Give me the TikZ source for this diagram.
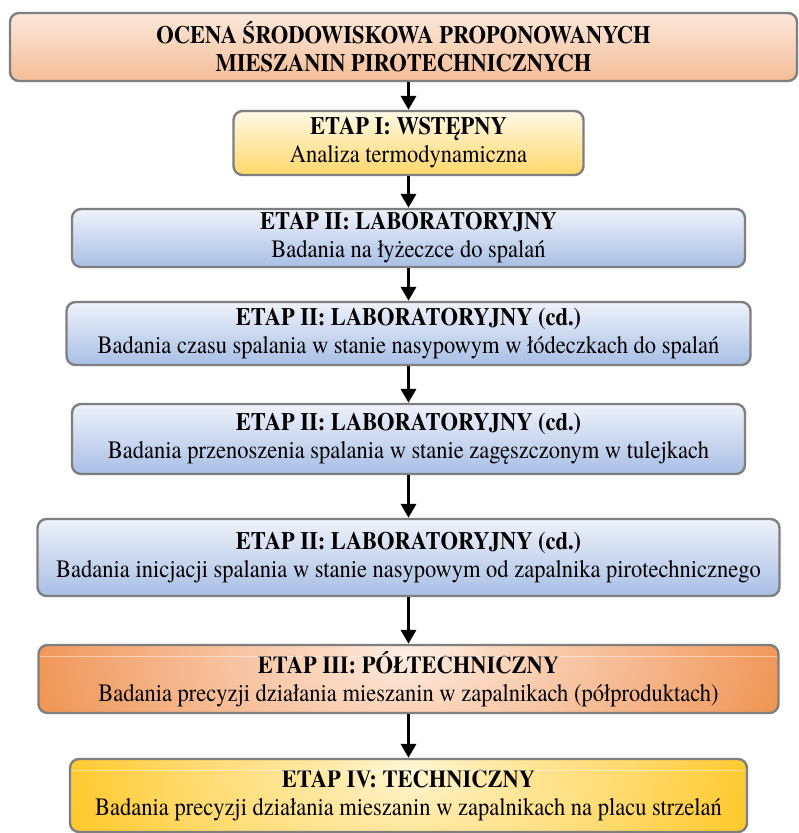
\documentclass[tikz,border=0pt]{standalone}
\usepackage{fontspec}
\setmainfont{texgyretermes}[Extension=.otf,UprightFont=*-regular,BoldFont=*-bold,ItalicFont=*-italic,BoldItalicFont=*-bolditalic,FakeStretch=0.9]
\usetikzlibrary{arrows.meta}
\definecolor{bord}{HTML}{7F7F7F}
\definecolor{pT}{HTML}{FCE8DB}
\definecolor{pB}{HTML}{F4BD97}
\definecolor{yT}{HTML}{FFF9E6}
\definecolor{yB}{HTML}{FFD86A}
\definecolor{bT}{HTML}{EEF2FA}
\definecolor{bB}{HTML}{A9BFE5}
\definecolor{oA}{HTML}{FDEEE4}
\definecolor{oB}{HTML}{FAD6BE}
\definecolor{oM}{HTML}{F5B68C}
\definecolor{oN}{HTML}{F0985A}
\definecolor{oC}{HTML}{ED7D31}
\definecolor{gA}{HTML}{FFF6D5}
\definecolor{gB}{HTML}{FFE9A6}
\definecolor{gM}{HTML}{FFDA6E}
\definecolor{gN}{HTML}{FFCA30}
\definecolor{gC}{HTML}{FFC000}
\pgfdeclareradialshading{glowO}{\pgfpoint{0bp}{0bp}}{color(0bp)=(oA); color(6bp)=(oB); color(16bp)=(oM); color(25bp)=(oN); color(34bp)=(oC); color(150bp)=(oC)}
\pgfdeclareradialshading{glowY}{\pgfpoint{0bp}{0bp}}{color(0bp)=(gA); color(6bp)=(gB); color(16bp)=(gM); color(25bp)=(gN); color(34bp)=(gC); color(150bp)=(gC)}
\begin{document}
\begin{tikzpicture}[x=1pt,y=-1pt,
  box/.style={draw=bord, line width=2.4pt, rounded corners=9pt, inner sep=0pt,
    align=center, font=\fontsize{25}{28}\selectfont},
  peach/.style={box, top color=pT, bottom color=pB},
  ylw/.style={box, top color=yT, bottom color=yB},
  blu/.style={box, top color=bT, bottom color=bB},
  org/.style={box, fill=oC, path picture={\shade[shading=glowO]
      ([yshift=190pt]path picture bounding box.north west) rectangle
      ([yshift=-138pt]path picture bounding box.south east);}},
  gld/.style={box, fill=gC, path picture={\shade[shading=glowY]
      ([yshift=190pt]path picture bounding box.north west) rectangle
      ([yshift=-138pt]path picture bounding box.south east);}},
  hl/.style={draw=white, opacity=0.45, line width=1pt},
  arr/.style={line width=3.5pt, -{Triangle[length=14pt,width=15pt]}}]
\useasboundingbox (0,0) rectangle (799,833);
\fill[white] (0,0) rectangle (799,833);

\node[peach, minimum width=787pt, minimum height=68pt] (b1) at (403.5,47)
  {\textbf{OCENA ŚRODOWISKOWA PROPONOWANYCH}\\\textbf{MIESZANIN PIROTECHNICZNYCH}};
\node[ylw, minimum width=350pt, minimum height=64pt] (b2) at (408.5,143)
  {\textbf{ETAP I: WSTĘPNY}\\Analiza termodynamiczna};
\node[blu, minimum width=673pt, minimum height=58pt] (b3) at (408.5,238)
  {\textbf{ETAP II: LABORATORYJNY}\\Badania na łyżeczce do spalań};
\node[blu, minimum width=684pt, minimum height=63pt] (b4) at (408.5,333.5)
  {\textbf{ETAP II: LABORATORYJNY (cd.)}\\Badania czasu spalania w stanie nasypowym w łódeczkach do spalań};
\node[blu, minimum width=673pt, minimum height=70pt] (b5) at (408.5,439)
  {\textbf{ETAP II: LABORATORYJNY (cd.)}\\Badania przenoszenia spalania w stanie zagęszczonym w tulejkach};
\node[blu, minimum width=742pt, minimum height=77pt] (b6) at (408.5,557.5)
  {\textbf{ETAP II: LABORATORYJNY (cd.)}\\Badania inicjacji spalania w stanie nasypowym od zapalnika pirotechnicznego};
\node[org, minimum width=740pt, minimum height=68pt] (b7) at (408.5,679)
  {\textbf{ETAP III: PÓŁTECHNICZNY}\\Badania precyzji działania mieszanin w zapalnikach (półproduktach)};
\node[gld, minimum width=677pt, minimum height=73pt] (b8) at (408.5,795.5)
  {\textbf{ETAP IV: TECHNICZNY}\\Badania precyzji działania mieszanin w zapalnikach na placu strzelań};

\draw[hl] ([shift={(3,13)}]b7.north west) -- ([shift={(-3,13)}]b7.north east);
\draw[hl] ([shift={(3,13)}]b8.north west) -- ([shift={(-3,13)}]b8.north east);

\draw[arr] (b1.south -| b2.north) -- (b2.north);
\draw[arr] (b2.south) -- (b3.north);
\draw[arr] (b3.south) -- (b4.north);
\draw[arr] (b4.south) -- (b5.north);
\draw[arr] (b5.south) -- (b6.north);
\draw[arr] (b6.south) -- (b7.north);
\draw[arr] (b7.south) -- (b8.north);
\end{tikzpicture}
\end{document}
